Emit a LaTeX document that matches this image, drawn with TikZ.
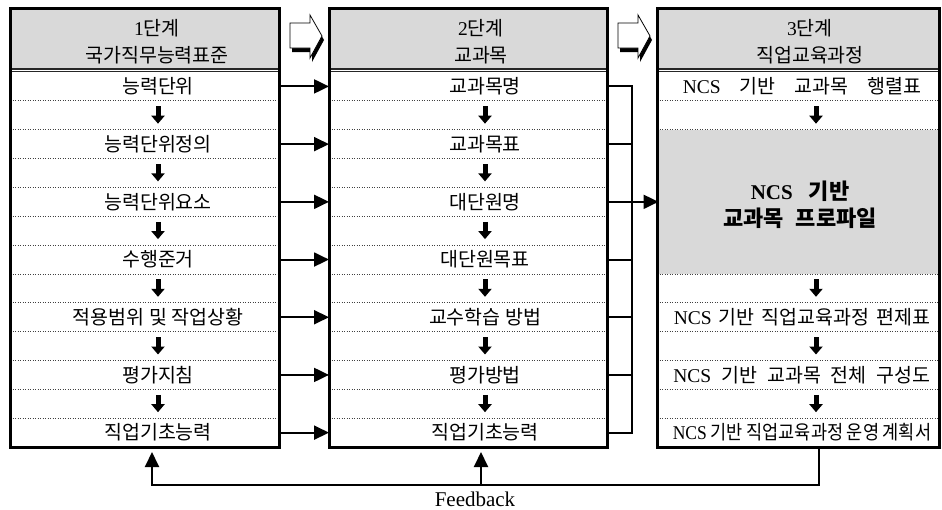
\documentclass[tikz,border=0pt]{standalone}
\usepackage{fontspec}
\usepackage{graphicx}
\setmainfont{Liberation Serif}
\newfontfamily\kr{Noto Sans CJK KR}
\usetikzlibrary{arrows.meta}
\definecolor{hdr}{HTML}{D9D9D9}
\newcommand\latn[1]{{\rmfamily\fontsize{19.5}{27}\selectfont #1}}
\newcommand\gap[1]{\hspace{#1pt}}
\tikzset{
  frame/.style={draw, line width=3pt, inner sep=0pt, outer sep=0pt},
  itemtxt/.style={font={\kr\fontsize{19.5}{27}\selectfont}, inner sep=0pt, outer sep=0pt, minimum height=28.85pt},
  hdrtxt/.style={font={\kr\fontsize{19.5}{27}\selectfont}, inner sep=0pt, align=center},
  conn/.style={line width=2pt},
  arr/.style={conn, -{Triangle[length=15pt,width=14pt]}},
  darr/.style={line width=5pt, -{Triangle[length=8pt,width=13pt]}, shorten <=5.5pt, shorten >=6pt},
  dotl/.style={line width=0.8pt, black!75, dash pattern=on 0.9pt off 1.6pt},
  grayfill/.style={fill=hdr, draw=none, inner sep=0pt, outer sep=0pt},
  bigarr/.style={fill=white, draw=black, line width=0.8pt, line join=miter},
  bigshadow/.style={fill=black},
}
\begin{document}
\begin{tikzpicture}[x=1pt,y=-1pt]
\useasboundingbox (0,0) rectangle (942,509);

% header fills
\fill[hdr] (11.5,10) rectangle (277.5,67.5);
\fill[hdr] (330.5,10) rectangle (605.5,67.5);
\fill[hdr] (658.5,10) rectangle (937.5,67.5);

% gray region in box 3
\node[grayfill, minimum width=279pt, minimum height=144.25pt] (c2) at (798,201.83) {};

% dotted separators
\foreach \k in {1,...,12} {
  \draw[dotl] (10,72+\k*28.85) -- (279,72+\k*28.85);
  \draw[dotl] (329,72+\k*28.85) -- (607,72+\k*28.85);
}
\foreach \k in {1,2,7,8,9,10,11,12} {
  \draw[dotl] (657,72+\k*28.85) -- (939,72+\k*28.85);
}

% header double lines
\foreach \xa/\xb in {10/279, 329/607, 657/939} {
  \draw[line width=2pt, black!85] (\xa,68.5) -- (\xb,68.5);
  \draw[line width=1.1pt, black!85] (\xa,71.6) -- (\xb,71.6);
}

% box frames
\node[frame, minimum width=269pt, minimum height=438.5pt] (box1) at (144.5,227.75) {};
\node[frame, minimum width=278pt, minimum height=438.5pt] (box2) at (468,227.75) {};
\node[frame, minimum width=282pt, minimum height=438.5pt] (box3) at (798,227.75) {};

% header texts
\node[hdrtxt] (h1) at (157,41.5) {\latn{1}단계\\국가직무능력표준};
\node[hdrtxt] (h2) at (481,41.5) {\latn{2}단계\\교과목};
\node[hdrtxt] (h3) at (810,41.5) {\latn{3}단계\\직업교육과정};

% box 1 items
\node[itemtxt] (a1) at (158,86.43) {능력단위};
\node[itemtxt] (a2) at (158,144.13) {능력단위정의};
\node[itemtxt] (a3) at (158,201.83) {능력단위요소};
\node[itemtxt] (a4) at (158,259.53) {수행준거};
\node[itemtxt] (a5) at (158,317.23) {적용범위 및 작업상황};
\node[itemtxt] (a6) at (158,374.93) {평가지침};
\node[itemtxt] (a7) at (158,432.63) {직업기초능력};

% box 2 items
\node[itemtxt] (b1) at (485,86.43) {교과목명};
\node[itemtxt] (b2) at (485,144.13) {교과목표};
\node[itemtxt] (b3) at (485,201.83) {대단원명};
\node[itemtxt] (b4) at (485,259.53) {대단원목표};
\node[itemtxt] (b5) at (485,317.23) {교수학습 방법};
\node[itemtxt] (b6) at (485,374.93) {평가방법};
\node[itemtxt] (b7) at (485,432.63) {직업기초능력};

% box 3 items
\node[itemtxt] (c1) at (802,86.43) {\latn{NCS}\gap{19}기반\gap{19}교과목\gap{19}행렬표};
\node[font={\kr\bfseries\fontsize{22}{27}\selectfont}, align=center, inner sep=0pt] (c2t) at (800,204.5)
  {{\rmfamily\bfseries\fontsize{21}{27}\selectfont NCS}\gap{16}기반\\교과목\gap{12}프로파일};
\node[itemtxt] (c3) at (802,317.23) {\latn{NCS}\gap{7}기반\gap{7}직업교육과정\gap{7}편제표};
\node[itemtxt] (c4) at (802,374.93) {\latn{NCS}\gap{10}기반\gap{10}교과목\gap{10}전체\gap{10}구성도};
\node[itemtxt] (c5) at (802,432.63) {\scalebox{0.9}[1]{\latn{NCS}\gap{4}기반\gap{4}직업교육과정\gap{4}운영\gap{4}계획서}};

% down arrows in box 1 and box 2
\foreach \p/\q in {a1/a2, a2/a3, a3/a4, a4/a5, a5/a6, a6/a7, b1/b2, b2/b3, b3/b4, b4/b5, b5/b6, b6/b7} {
  \draw[darr] (\p.south) -- (\q.north);
}
% down arrows in box 3
\coordinate (ax3) at (816,0);
\draw[darr] (c1.south -| ax3) -- (c2.north -| ax3);
\draw[darr] (c2.south -| ax3) -- (c3.north -| ax3);
\draw[darr] (c3.south -| ax3) -- (c4.north -| ax3);
\draw[darr] (c4.south -| ax3) -- (c5.north -| ax3);

% box1 -> box2 connectors
\foreach \p in {1,...,7} {
  \draw[arr] (a\p -| box1.east) -- (a\p -| box2.west);
}

% box2 -> collector -> box3
\coordinate (vx) at (632,0);
\draw[conn, line join=miter] (b1 -| box2.east) -- (b1 -| vx) -- (b7 -| vx) -- (b7 -| box2.east);
\foreach \p in {2,...,6} {
  \draw[conn] (b\p -| box2.east) -- (b\p -| vx);
}
\draw[arr] (c2 -| vx) -- (c2.west);

% feedback
\coordinate (fR) at (819,485);
\coordinate (fL) at (152,485);
\coordinate (fM) at (481,485);
\draw[arr, line join=miter, shorten >=5pt] (box3.south -| fR) -- (fR) -- (fL) -- (box1.south -| fL);
\draw[arr, shorten >=5pt] (fM) -- (box2.south -| fM);
\node[font={\fontsize{21}{24}\selectfont}, inner sep=0pt] (fbt) at (475,499) {Feedback};

% big hollow arrows between stages
\foreach \dx in {0,328} {
  \begin{scope}[xshift=\dx]
    \fill[bigshadow] (292,27) -- (312,27) -- (312,19) -- (324,40) -- (312,62) -- (312,52) -- (292,52) -- cycle;
    \draw[bigarr] (290,23) -- (310,23) -- (310,15) -- (322,36) -- (310,58) -- (310,48) -- (290,48) -- cycle;
  \end{scope}
}
\end{tikzpicture}
\end{document}
